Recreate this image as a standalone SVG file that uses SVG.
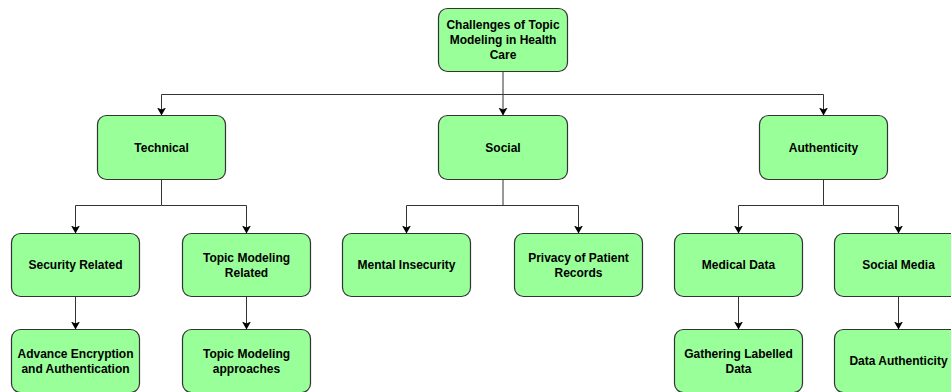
<svg xmlns="http://www.w3.org/2000/svg" width="951" height="392" viewBox="0 0 951 392">
<style>
.box{fill:#99ff99;stroke:#333333;stroke-width:1.2}
.lbl{font-family:"Liberation Sans",Arial,sans-serif;font-size:12px;font-weight:bold;fill:#000000;text-anchor:middle}
.edge{fill:none;stroke:#333333;stroke-width:1;marker-end:url(#arr)}
.plain{fill:none;stroke:#333333;stroke-width:1}
</style>
<defs>
<marker id="arr" viewBox="0 0 8 9" refX="8" refY="4.5" markerWidth="8" markerHeight="9" markerUnits="userSpaceOnUse" orient="auto">
<path d="M0,0 L8,4.5 L0,9 L2,4.5 Z" fill="#000000"/>
</marker>
</defs>
<rect width="951" height="392" fill="#ffffff"/>
<g id="connectors">
<path class="edge" d="M503,71.5 V115.5"/>
<path class="edge" d="M503,94.5 H161.5 V115.5"/>
<path class="edge" d="M503,94.5 H823.5 V115.5"/>
<path class="plain" d="M161.5,179.5 V205.5"/>
<path class="edge" d="M161.5,205.5 H75.5 V233.5"/>
<path class="edge" d="M161.5,205.5 H246.5 V233.5"/>
<path class="plain" d="M503,179.5 V205.5"/>
<path class="edge" d="M503,205.5 H406.5 V233.5"/>
<path class="edge" d="M503,205.5 H578.5 V233.5"/>
<path class="plain" d="M823.5,179.5 V205.5"/>
<path class="edge" d="M823.5,205.5 H738.5 V233.5"/>
<path class="edge" d="M823.5,205.5 H898.5 V233.5"/>
<path class="edge" d="M75.5,296.5 V329.5"/>
<path class="edge" d="M246.5,296.5 V329.5"/>
<path class="edge" d="M738.5,296.5 V329.5"/>
<path class="edge" d="M898.5,296.5 V329.5"/>
</g>
<g id="root">
<rect class="box" x="438.5" y="8.5" width="129" height="63" rx="9"/>
<text class="lbl" x="503" y="29">Challenges of Topic</text>
<text class="lbl" x="503" y="44">Modeling in Health</text>
<text class="lbl" x="503" y="59">Care</text>
</g>
<g id="technical">
<rect class="box" x="97.5" y="115.5" width="128" height="64" rx="9"/>
<text class="lbl" x="161.5" y="151.5">Technical</text>
</g>
<g id="social">
<rect class="box" x="438.5" y="115.5" width="129" height="64" rx="9"/>
<text class="lbl" x="503" y="151.5">Social</text>
</g>
<g id="authenticity">
<rect class="box" x="759.5" y="115.5" width="128" height="64" rx="9"/>
<text class="lbl" x="823.5" y="151.5">Authenticity</text>
</g>
<g id="security-related">
<rect class="box" x="11.5" y="233.5" width="128" height="63" rx="9"/>
<text class="lbl" x="75.5" y="269">Security Related</text>
</g>
<g id="topic-modeling-related">
<rect class="box" x="182.5" y="233.5" width="128" height="63" rx="9"/>
<text class="lbl" x="246.5" y="261.5">Topic Modeling</text>
<text class="lbl" x="246.5" y="276.5">Related</text>
</g>
<g id="mental-insecurity">
<rect class="box" x="342.5" y="233.5" width="128" height="63" rx="9"/>
<text class="lbl" x="406.5" y="269">Mental Insecurity</text>
</g>
<g id="privacy">
<rect class="box" x="514.5" y="233.5" width="128" height="63" rx="9"/>
<text class="lbl" x="578.5" y="261.5">Privacy of Patient</text>
<text class="lbl" x="578.5" y="276.5">Records</text>
</g>
<g id="medical-data">
<rect class="box" x="674.5" y="233.5" width="128" height="63" rx="9"/>
<text class="lbl" x="738.5" y="269">Medical Data</text>
</g>
<g id="social-media">
<rect class="box" x="834.5" y="233.5" width="128" height="63" rx="9"/>
<text class="lbl" x="898.5" y="269">Social Media</text>
</g>
<g id="advance-encryption">
<rect class="box" x="11.5" y="329.5" width="128" height="63" rx="9"/>
<text class="lbl" x="75.5" y="357.5">Advance Encryption</text>
<text class="lbl" x="75.5" y="372.5">and Authentication</text>
</g>
<g id="topic-modeling-approaches">
<rect class="box" x="182.5" y="329.5" width="128" height="63" rx="9"/>
<text class="lbl" x="246.5" y="357.5">Topic Modeling</text>
<text class="lbl" x="246.5" y="372.5">approaches</text>
</g>
<g id="gathering-labelled-data">
<rect class="box" x="674.5" y="329.5" width="128" height="63" rx="9"/>
<text class="lbl" x="738.5" y="357.5">Gathering Labelled</text>
<text class="lbl" x="738.5" y="372.5">Data</text>
</g>
<g id="data-authenticity">
<rect class="box" x="834.5" y="329.5" width="128" height="63" rx="9"/>
<text class="lbl" x="898.5" y="365">Data Authenticity</text>
</g>
</svg>
